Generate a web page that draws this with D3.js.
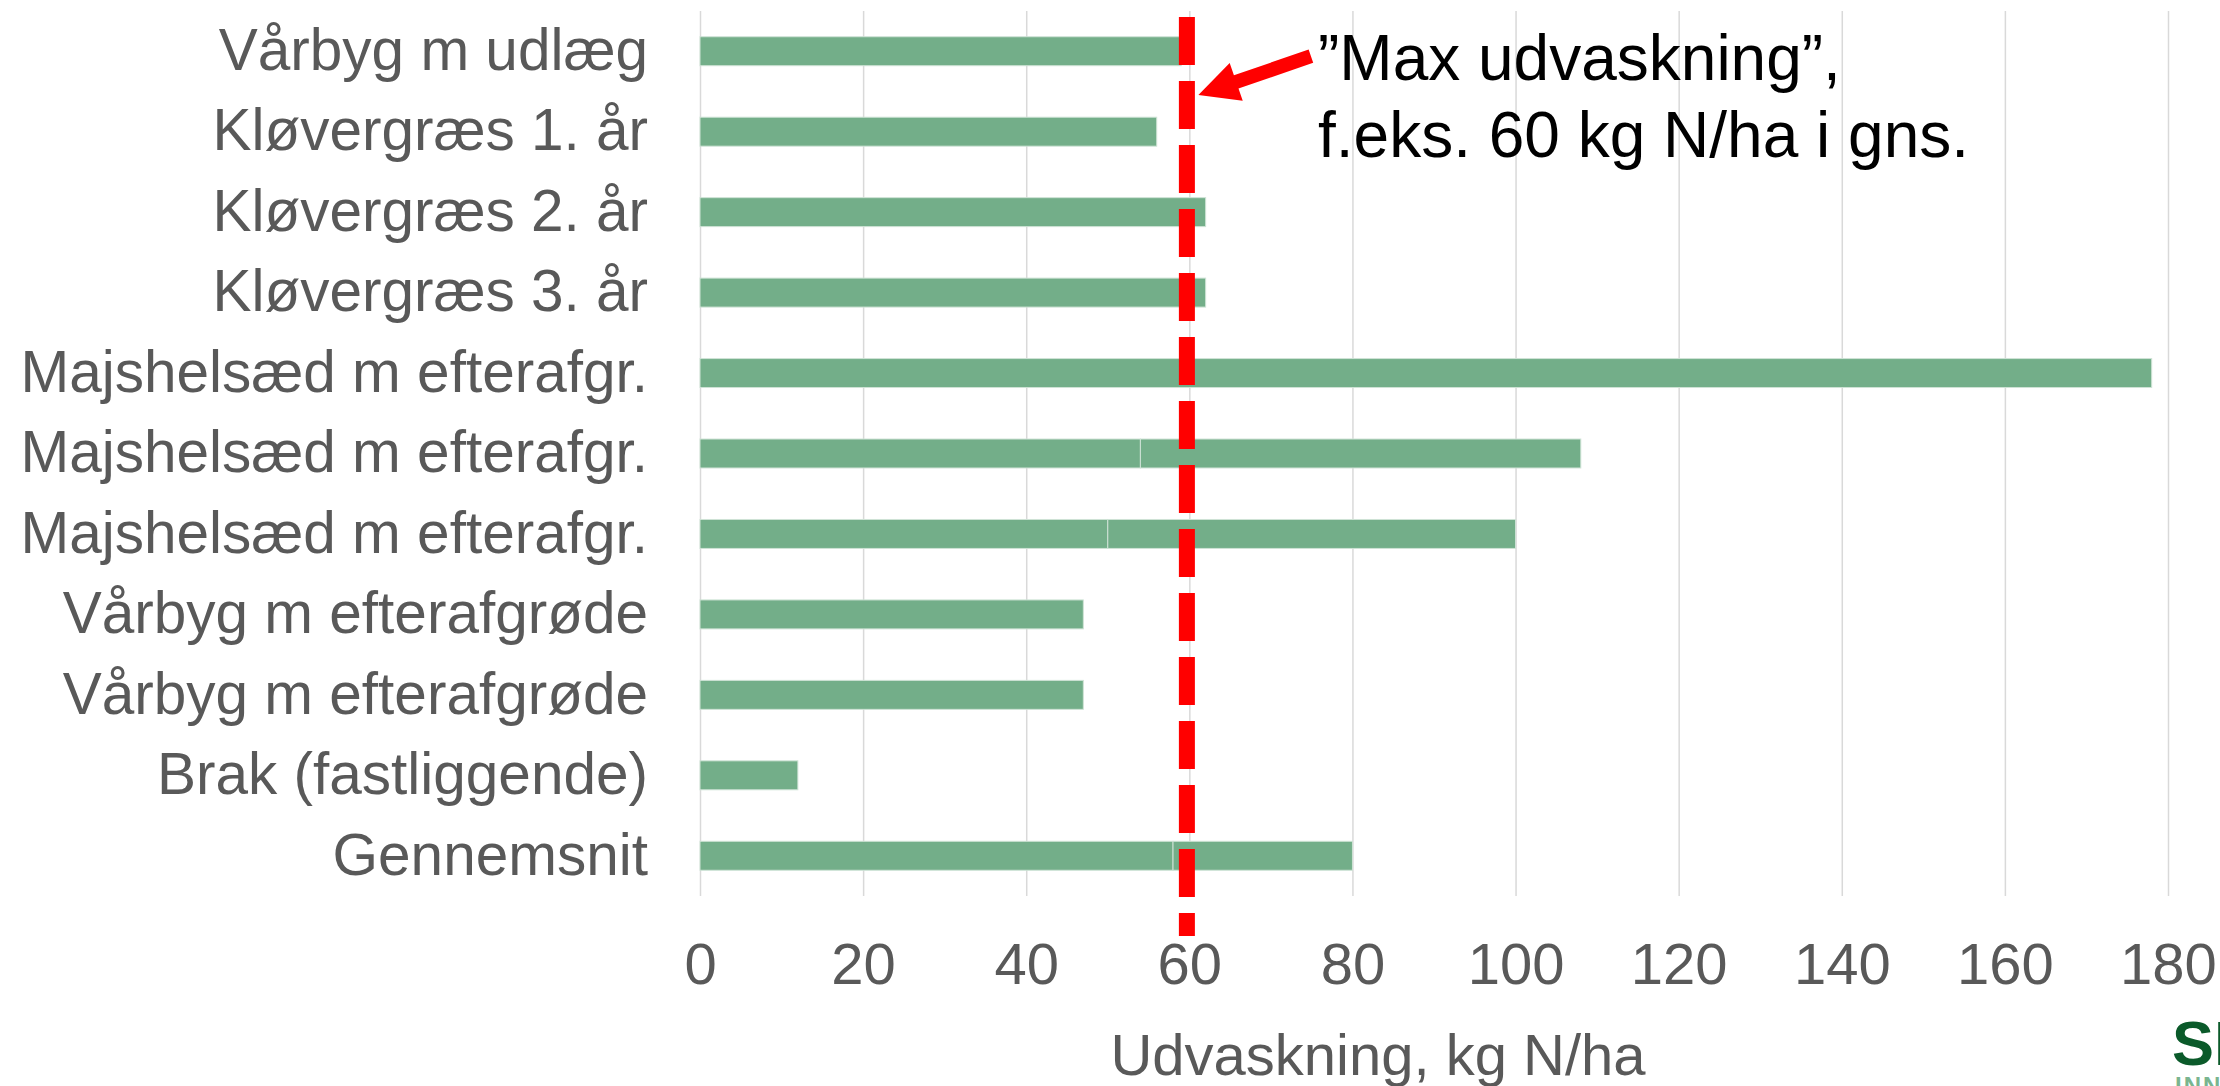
<!DOCTYPE html>
<html>
<head>
<meta charset="utf-8">
<script src="https://cdn.jsdelivr.net/npm/d3@7"></script>
<style>
  body { margin: 0; background: #fff; }
  text { font-family: "Liberation Sans", Arial, sans-serif; }
</style>
</head>
<body>
<div id="chart"></div>
<script>

// chart data
const categories = [
  "Vårbyg m udlæg",
  "Kløvergræs 1. år",
  "Kløvergræs 2. år",
  "Kløvergræs 3. år",
  "Majshelsæd m efterafgr.",
  "Majshelsæd m efterafgr.",
  "Majshelsæd m efterafgr.",
  "Vårbyg m efterafgrøde",
  "Vårbyg m efterafgrøde",
  "Brak (fastliggende)",
  "Gennemsnit"
];
// bars are two stacked pieces of the same colour
const firstPart  = [59, 56, 62, 62, 178, 54, 50, 47, 47, 12, 58];
const secondPart = [0, 0, 0, 0, 0, 54, 50, 0, 0, 0, 22];
const xTicks = [0, 20, 40, 60, 80, 100, 120, 140, 160, 180];
const maxLine = 59.7;   // red dashed "max" line
const noteLines = ["\u201DMax udvaskning\u201D,", "f.eks. 60 kg N/ha i gns."];
const xTitle = "Udvaskning, kg N/ha";

// sizes
const width = 2220;
const height = 1086;
const margin = {left: 700, right: 52, top: 11, bottom: 190};
const barColor = "#73ae89";
const textColor = "#595959";

const svg = d3.select("#chart")
  .append("svg")
  .attr("width", width)
  .attr("height", height)
  .attr("viewBox", [0, 0, width, height]);

svg.append("rect")
  .attr("width", width)
  .attr("height", height)
  .attr("fill", "#fff");

// build table for d3.stack
const table = categories.map((c, i) => ({idx: i, first: firstPart[i], second: secondPart[i]}));

const xScale = d3.scaleLinear()
  .domain([0, 180])
  .range([margin.left, width - margin.right]);

const yScale = d3.scaleBand()
  .domain(d3.range(categories.length))
  .range([margin.top, height - margin.bottom])
  .paddingInner(0.64)
  .paddingOuter(0.32);

const plotBottom = height - margin.bottom;

// vertical gridlines
svg.append("g")
  .attr("transform", `translate(0,${plotBottom})`)
  .call(d3.axisBottom(xScale)
          .tickValues(xTicks)
          .tickSize(-(plotBottom - margin.top))
          .tickFormat(""))
  .call(g => g.select(".domain").remove())
  .call(g => g.selectAll("line").attr("stroke", "#d9d9d9").attr("stroke-width", 1.5));

// x tick labels
svg.append("g")
  .attr("transform", `translate(0,${plotBottom})`)
  .call(d3.axisBottom(xScale)
          .tickValues(xTicks)
          .tickSize(0)
          .tickPadding(47))
  .call(g => g.select(".domain").remove())
  .call(g => g.selectAll("text")
              .attr("fill", textColor)
              .attr("font-size", "58px")
              .attr("font-family", "'Liberation Sans', Arial, sans-serif"));

// category labels
svg.append("g")
  .attr("transform", `translate(648,0)`)
  .call(d3.axisLeft(yScale)
          .tickSize(0)
          .tickPadding(0)
          .tickFormat(i => categories[i]))
  .call(g => g.select(".domain").remove())
  .call(g => g.selectAll("text")
              .attr("fill", textColor)
              .attr("font-size", "58.5px")
              .attr("font-family", "'Liberation Sans', Arial, sans-serif"));

// stacked bars
const stacked = d3.stack().keys(["first", "second"])(table);

svg.append("g")
  .selectAll("g")
  .data(stacked)
  .enter()
  .append("g")
  .selectAll("rect")
  .data(d => d.filter(p => p[1] > p[0]))
  .enter()
  .append("rect")
    .attr("x", d => xScale(d[0]))
    .attr("y", d => yScale(d.data.idx))
    .attr("width", d => xScale(d[1]) - xScale(d[0]))
    .attr("height", yScale.bandwidth())
    .attr("fill", barColor)
    .attr("stroke", "#cfe3d6")
    .attr("stroke-width", 1);

// red dashed line
svg.append("line")
  .attr("x1", xScale(maxLine))
  .attr("x2", xScale(maxLine))
  .attr("y1", 17)
  .attr("y2", 936)
  .attr("stroke", "#ff0000")
  .attr("stroke-width", 16)
  .attr("stroke-dasharray", "48,16");

// arrow pointing at the line
const tip = [xScale(maxLine) + 11.5, 95];
const u = [0.9456, -0.3264];
const n = [0.3264, 0.9456];
const pt = (along, side) => [tip[0] + u[0] * along + n[0] * side, tip[1] + u[1] * along + n[1] * side];
const arrowPts = [tip, pt(40, 20), pt(40, 7), pt(119, 7), pt(119, -7), pt(40, -7), pt(40, -20)];

svg.append("path")
  .attr("d", d3.line()(arrowPts) + "Z")
  .attr("fill", "#ff0000");

// note text
svg.append("g")
  .selectAll("text")
  .data(noteLines)
  .enter()
  .append("text")
    .attr("x", 1318)
    .attr("y", (d, i) => 80 + i * 77)
    .attr("font-size", "64px")
    .attr("fill", "#000")
    .text(d => d);

// axis title
svg.append("text")
  .attr("x", 1378)
  .attr("y", 1075)
  .attr("text-anchor", "middle")
  .attr("font-size", "58px")
  .attr("fill", textColor)
  .text(xTitle);

// logo, cut off at the right edge
svg.append("text")
  .attr("x", 2172)
  .attr("y", 1065)
  .attr("font-size", "63px")
  .attr("font-weight", "bold")
  .attr("fill", "#0b5a2a")
  .text("SEGES");

svg.append("text")
  .attr("x", 2175)
  .attr("y", 1094)
  .attr("font-size", "24px")
  .attr("font-weight", "bold")
  .attr("letter-spacing", "2px")
  .attr("fill", "#7ab58f")
  .text("INNOVATION");

</script>
</body>
</html>
